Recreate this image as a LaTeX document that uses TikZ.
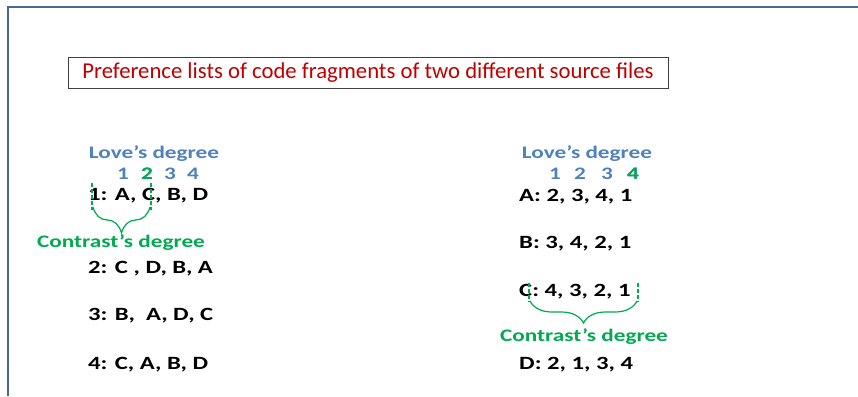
\documentclass[tikz,border=0pt]{standalone}
\usepackage{fontspec}
\setmainfont{Carlito}[FakeStretch=1.32]
\newfontfamily\titlefont{Carlito}
\usetikzlibrary{decorations.pathreplacing}
\definecolor{lovec}{RGB}{79,129,189}
\definecolor{greenc}{RGB}{0,170,80}
\definecolor{titlec}{RGB}{192,0,0}
\definecolor{framec}{RGB}{74,104,150}
\begin{document}
\begin{tikzpicture}[
    x=1pt, y=-1pt,
    every node/.style={inner sep=0pt,font=\fontsize{16}{18}\selectfont},
    titlebox/.style={draw=black!75,line width=.6pt,text=titlec,
        font=\titlefont\fontsize{22.7}{26}\selectfont,
        minimum width=600pt,minimum height=31pt},
    lovestyle/.style={text=lovec,font=\fontsize{17.6}{20}\selectfont\bfseries},
    numstyle/.style={text=lovec,font=\fontsize{17.6}{20}\selectfont\bfseries},
    rowstyle/.style={anchor=west,font=\fontsize{18.7}{21}\selectfont\bfseries},
    contraststyle/.style={text=greenc,font=\fontsize{17.6}{20}\selectfont\bfseries},
    tickline/.style={greenc,line width=1.2pt,dash pattern=on 4pt off 2pt},
    bracepath/.style={greenc,line width=1.2pt,decorate,
        decoration={brace,mirror,amplitude=#1}}]
    \useasboundingbox (0,0) rectangle (858,396);
    % Marco de la diapositiva.
    \draw[framec,line width=1.6pt] (8,396) -- (8,7) -- (858,7);

    \node[titlebox] (title) at (368,72.5)
        {Preference lists of code fragments of two different source files};

    % Lista izquierda.
    \node[lovestyle] (loveL) at (154,154) {Love’s degree};
    \foreach \i/\xx in {1/123,2/147,3/170,4/193} {
        \node[numstyle] (numL\i) at (\xx,174) {\i};
    }
    \node[numstyle,text=greenc] at (numL2) {2};
    \node[rowstyle] (rowA) at (88,196) {1: A, C, B, D};
    \node[rowstyle] (rowB) at (88,269) {2: C , D, B, A};
    \node[rowstyle] (rowC) at (88,316) {3: B,\ \ A, D, C};
    \node[rowstyle] (rowD) at (88,365) {4: C, A, B, D};
    \node[contraststyle] (contrastL) at (121,243) {Contrast’s degree};

    \coordinate (tickLa) at (92,183);
    \coordinate (tickLb) at (92,210);
    \coordinate (tickLc) at (151,183);
    \coordinate (tickLd) at (151,210);
    \draw[tickline] (tickLa) -- (tickLb);
    \draw[tickline] (tickLc) -- (tickLd);
    \coordinate (braceLa) at (93,207);
    \coordinate (braceLb) at (150,207);
    \draw[bracepath=26pt] (braceLa) -- (braceLb);

    % Lista derecha.
    \node[lovestyle] (loveR) at (587,154) {Love’s degree};
    \foreach \i/\xx in {1/555,2/580,3/607,4/633} {
        \node[numstyle] (numR\i) at (\xx,174) {\i};
    }
    \node[numstyle,text=greenc] at (numR4) {4};
    \node[rowstyle] (rowR1) at (519,197) {A: 2, 3, 4, 1};
    \node[rowstyle] (rowR2) at (519,244) {B: 3, 4, 2, 1};
    \node[rowstyle] (rowR3) at (519,292) {C: 4, 3, 2, 1};
    \node[rowstyle] (rowR4) at (519,365) {D: 2, 1, 3, 4};
    \node[contraststyle] (contrastR) at (584,337) {Contrast’s degree};

    \coordinate (tickRa) at (529,283);
    \coordinate (tickRb) at (529,302);
    \coordinate (tickRc) at (638,283);
    \coordinate (tickRd) at (638,302);
    \draw[tickline] (tickRa) -- (tickRb);
    \draw[tickline] (tickRc) -- (tickRd);
    \coordinate (braceRa) at (530,301);
    \coordinate (braceRb) at (637,301);
    \draw[bracepath=22pt] (braceRa) -- (braceRb);
\end{tikzpicture}
\end{document}
